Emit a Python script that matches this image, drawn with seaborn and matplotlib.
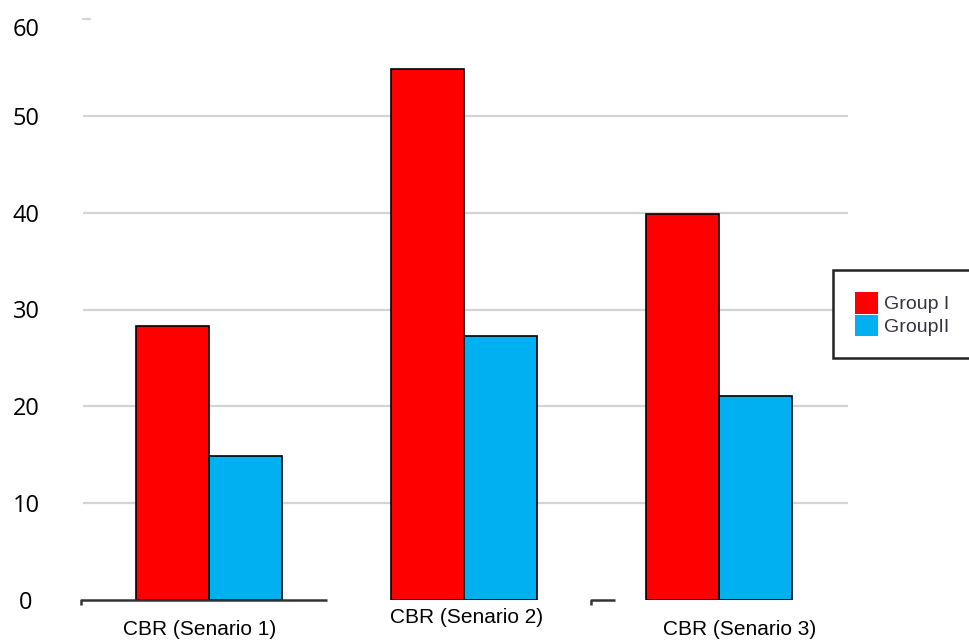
import matplotlib as mpl
import matplotlib.pyplot as plt
import matplotlib.patches as mpatches
import matplotlib.transforms as mtransforms
import pandas as pd
import seaborn as sns

mpl.use("Agg")

categories = ["CBR (Senario 1)", "CBR (Senario 2)", "CBR (Senario 3)"]
group_1 = [28.3, 54.8, 39.9]
group_2 = [14.9, 27.3, 21.1]
series_names = ["Group I", "GroupII"]
y_ticks = [0, 10, 20, 30, 40, 50, 60]

colors = ["#ff0000", "#00b0f0"]
grid_color = "#d4d4d4"

df = pd.DataFrame(
    {
        "scenario": categories * 2,
        "value": group_1 + group_2,
        "group": [series_names[0]] * 3 + [series_names[1]] * 3,
    }
)

sns.set_style("white")
plt.rcParams["font.family"] = ["Liberation Sans", "DejaVu Sans"]

fig = plt.figure(figsize=(9.7, 6.42), dpi=100)
ax = fig.add_axes([83 / 970, 42 / 642, 765 / 970, 581 / 642])

sns.barplot(
    data=df,
    x="scenario",
    y="value",
    hue="group",
    palette=colors,
    saturation=1,
    width=0.573,
    edgecolor="black",
    linewidth=1.2,
    legend=False,
    ax=ax,
    zorder=2,
)

ax.set_xlim(-0.494, 2.506)
ax.set_ylim(0, 60)
ax.set_xlabel("")
ax.set_ylabel("")
for s in ax.spines.values():
    s.set_visible(False)

# grid, but no full line at 0 and 60
ax.set_yticks(y_ticks)
ax.yaxis.grid(True, color=grid_color, lw=1.6)
ax.xaxis.grid(False)
ax.set_axisbelow(True)
gl = ax.get_ygridlines()
gl[0].set_visible(False)
gl[-1].set_visible(False)
ax.plot([0, 0.009], [60, 60], transform=ax.get_yaxis_transform(),
        color=grid_color, lw=1.6, clip_on=False)

# y tick labels
ax.tick_params(axis="y", length=0, pad=41, labelsize=17, labelcolor="black")
for lab in ax.get_yticklabels():
    lab.set_fontfamily(["Open Sans", "DejaVu Sans"])
    lab.set_horizontalalignment("center")
ylabs = ax.get_yticklabels()
ylabs[-1].set_transform(ylabs[-1].get_transform() +
                        mtransforms.ScaledTranslation(0, -0.08, fig.dpi_scale_trans))

# x tick labels, a bit scattered like the original
ax.set_xticks(range(len(categories)))
ax.set_xticklabels(categories)
ax.tick_params(axis="x", length=0, pad=6, labelsize=15, labelcolor="black")
offsets = [(-0.09, -0.12), (0.03, 0.0), (0.21, -0.12)]
for lab, (dx, dy) in zip(ax.get_xticklabels(), offsets):
    lab.set_transform(lab.get_transform() +
                      mtransforms.ScaledTranslation(dx, dy, fig.dpi_scale_trans))

# broken bottom axis pieces
tr = mtransforms.blended_transform_factory(ax.transAxes, ax.transData)
for x0, x1 in [(-0.003, 0.3186), (0.6637, 0.6954)]:
    ax.plot([x0, x0, x1], [-0.55, 0.05, 0.05], transform=tr, color="#333333",
            lw=1.8, clip_on=False, zorder=5, solid_capstyle="butt")

handles = [mpatches.Patch(facecolor=c, edgecolor="none") for c in colors]
leg = ax.legend(
    handles,
    series_names,
    loc="upper left",
    bbox_to_anchor=(833 / 970, 1 - 270 / 642),
    bbox_transform=fig.transFigure,
    fontsize=14,
    frameon=True,
    fancybox=False,
    framealpha=1,
    edgecolor="#222222",
    handlelength=1.15,
    handleheight=1.3,
    handletextpad=0.3,
    labelspacing=0.05,
    borderpad=1.15,
    borderaxespad=0,
)
leg.get_frame().set_linewidth(1.8)
for t in leg.get_texts():
    t.set_color("#333344")

plt.savefig("out.png", dpi=100)
